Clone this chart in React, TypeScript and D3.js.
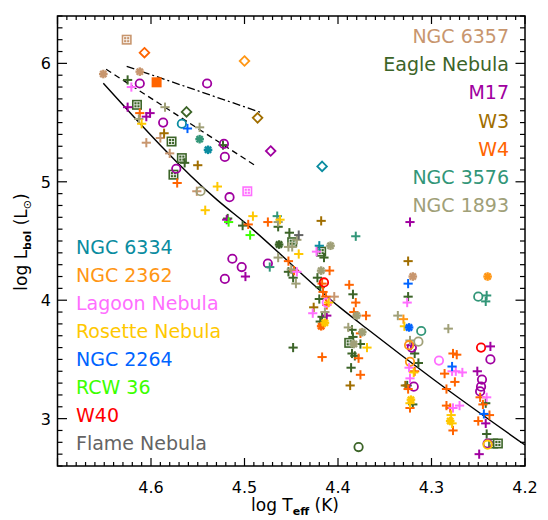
import React from "react";
import * as d3 from "d3";

type P = [number, number, string];

// markers: P=plus, C=circle, D=diamond, B=boxed square, S=asterisk, Q=filled square
const ngc6357: P[] = [
  [4.626, 6.2, "B"], [4.651, 5.91, "S"], [4.612, 5.93, "S"], [4.59, 5.37, "P"], [4.605, 5.33, "P"],
  [4.58, 5.24, "P"], [4.551, 4.92, "P"], [4.404, 4.03, "P"], [4.32, 4.2, "S"],
];
const eagle: P[] = [
  [4.625, 5.86, "P"], [4.615, 5.65, "B"], [4.562, 5.59, "D"], [4.578, 5.34, "B"], [4.523, 5.31, "P"],
  [4.567, 5.2, "B"], [4.564, 5.16, "P"], [4.576, 5.06, "B"], [4.518, 4.69, "P"], [4.502, 4.63, "P"],
  [4.464, 4.62, "P"], [4.452, 4.57, "P"], [4.463, 4.47, "S"], [4.449, 4.49, "B"], [4.418, 4.41, "B"],
  [4.415, 4.36, "P"], [4.453, 4.24, "P"], [4.448, 4.19, "P"], [4.422, 4.19, "P"], [4.419, 4.11, "P"],
  [4.42, 4.01, "P"], [4.417, 3.86, "P"], [4.419, 3.82, "P"], [4.384, 4.05, "P"], [4.325, 4.03, "P"],
  [4.385, 3.75, "P"], [4.384, 3.69, "P"], [4.388, 3.64, "B"], [4.376, 3.63, "P"], [4.448, 3.6, "P"],
  [4.385, 3.55, "P"], [4.382, 3.53, "P"], [4.386, 3.43, "P"], [4.318, 3.55, "P"], [4.314, 3.47, "P"],
  [4.326, 3.28, "P"], [4.32, 3.12, "P"], [4.378, 2.76, "C"], [4.242, 3.13, "P"], [4.241, 2.87, "P"],
  [4.234, 2.79, "B"], [4.229, 2.79, "B"],
];
const m17: P[] = [
  [4.612, 5.83, "C"], [4.54, 5.83, "C"], [4.625, 5.63, "P"], [4.601, 5.58, "P"], [4.605, 5.55, "P"],
  [4.587, 5.5, "C"], [4.522, 5.32, "C"], [4.521, 5.21, "C"], [4.573, 5.11, "C"], [4.516, 4.87, "C"],
  [4.472, 5.26, "D"], [4.519, 4.68, "P"], [4.513, 4.35, "C"], [4.503, 4.28, "C"], [4.499, 4.2, "P"],
  [4.521, 4.18, "C"], [4.475, 4.31, "C"], [4.412, 3.87, "P"], [4.323, 4.66, "P"], [4.321, 3.6, "C"],
  [4.322, 3.62, "P"], [4.319, 3.27, "C"], [4.237, 3.61, "P"], [4.237, 3.5, "C"], [4.251, 3.4, "P"],
  [4.246, 3.33, "C"], [4.247, 3.27, "C"], [4.248, 3.23, "C"], [4.242, 2.96, "P"], [4.24, 2.79, "C"],
  [4.249, 2.7, "P"],
];
const w3: P[] = [
  [4.486, 5.54, "D"], [4.586, 5.41, "P"], [4.55, 5.14, "P"], [4.418, 4.67, "P"], [4.426, 3.94, "P"],
  [4.325, 4.33, "P"], [4.387, 3.28, "P"], [4.328, 3.28, "P"],
];
const w4: P[] = [
  [4.607, 6.09, "D"], [4.594, 5.84, "Q"], [4.612, 5.58, "P"], [4.572, 4.99, "P"], [4.496, 4.64, "P"],
  [4.475, 4.66, "P"], [4.453, 4.33, "P"], [4.447, 4.25, "P"], [4.409, 4.25, "P"], [4.417, 4.14, "P"],
  [4.416, 4.07, "P"], [4.413, 4.03, "P"], [4.412, 3.96, "P"], [4.418, 3.78, "S"], [4.417, 3.52, "P"],
  [4.388, 4.13, "P"], [4.381, 3.98, "P"], [4.383, 3.9, "P"], [4.37, 3.87, "P"], [4.376, 3.72, "P"],
  [4.378, 3.51, "P"], [4.376, 3.37, "P"], [4.318, 3.4, "P"], [4.325, 3.25, "P"], [4.323, 3.09, "P"],
  [4.277, 3.55, "P"], [4.273, 3.54, "P"], [4.286, 3.38, "P"], [4.275, 3.31, "P"], [4.284, 3.25, "P"],
  [4.284, 3.11, "P"], [4.28, 3.09, "P"], [4.277, 2.9, "P"], [4.248, 3.18, "P"], [4.245, 3.12, "P"],
  [4.238, 3.03, "P"], [4.25, 2.98, "P"],
];
const ngc3576: P[] = [
  [4.548, 5.36, "S"], [4.465, 4.71, "P"], [4.473, 4.28, "P"], [4.381, 4.54, "P"], [4.311, 3.74, "C"],
  [4.25, 4.03, "C"], [4.241, 4.04, "P"], [4.242, 3.99, "P"],
];
const ngc1893: P[] = [
  [4.585, 5.63, "P"], [4.613, 5.53, "P"], [4.548, 5.46, "P"], [4.547, 4.92, "C"], [4.464, 4.66, "P"],
  [4.444, 4.51, "P"], [4.449, 4.45, "P"], [4.453, 4.45, "P"], [4.408, 4.46, "S"], [4.464, 4.36, "P"],
  [4.45, 4.26, "P"], [4.445, 4.14, "P"], [4.418, 4.25, "S"], [4.414, 3.9, "P"], [4.38, 3.87, "S"],
  [4.336, 3.87, "P"], [4.282, 3.76, "P"], [4.389, 3.77, "P"], [4.374, 3.73, "S"], [4.383, 3.63, "S"],
  [4.314, 3.65, "C"], [4.323, 3.66, "P"],
];
const ngc6334: P[] = [
  [4.567, 5.49, "C"], [4.539, 5.27, "S"], [4.417, 5.13, "D"], [4.42, 4.46, "P"],
];
const ngc2362: P[] = [
  [4.5, 6.02, "D"], [4.24, 4.2, "S"], [4.33, 3.84, "P"], [4.324, 3.62, "C"], [4.323, 3.48, "C"],
];
const lagoon: P[] = [
  [4.621, 5.8, "P"], [4.497, 4.92, "B"], [4.423, 4.41, "P"], [4.444, 4.24, "P"], [4.412, 3.98, "C"],
  [4.427, 3.89, "P"], [4.326, 3.98, "P"], [4.292, 3.49, "C"], [4.278, 3.4, "P"], [4.274, 3.4, "P"],
  [4.267, 3.39, "P"], [4.324, 3.43, "P"], [4.323, 3.34, "P"], [4.27, 3.11, "P"], [4.277, 3.09, "P"],
  [4.241, 3.18, "P"],
];
const rosette: P[] = [
  [4.61, 5.49, "P"], [4.529, 4.96, "P"], [4.542, 4.76, "P"], [4.491, 4.71, "P"], [4.462, 4.68, "P"],
  [4.442, 4.39, "P"], [4.41, 3.98, "P"], [4.414, 3.81, "S"], [4.329, 3.78, "P"], [4.369, 3.6, "P"],
  [4.319, 3.39, "P"], [4.322, 3.16, "S"], [4.323, 3.13, "P"], [4.279, 3.03, "P"], [4.28, 2.98, "S"],
  [4.278, 2.96, "P"], [4.24, 2.78, "C"],
];
const ngc2264: P[] = [
  [4.561, 5.45, "P"], [4.325, 4.14, "P"], [4.324, 3.77, "S"], [4.278, 3.44, "P"], [4.244, 3.04, "P"],
];
const rcw36: P[] = [[4.517, 4.66, "P"], [4.494, 4.55, "P"]];
const w40: P[] = [[4.415, 4.15, "C"], [4.247, 3.6, "C"]];
const flame: P[] = [[4.442, 4.55, "P"]];

const zamsLine: [number, number][] = [
  [4.651, 5.832], [4.529, 4.845], [4.499, 4.651], [4.397, 3.933], [4.37, 3.765], [4.297, 3.326], [4.2, 2.777],
];
const dashedLine: [number, number][] = [[4.648, 5.95], [4.489, 5.14]];
const dashDotLine: [number, number][] = [[4.626, 5.975], [4.483, 5.587]];

const xMajor = [4.6, 4.5, 4.4, 4.3, 4.2];
const yMajor = [3, 4, 5, 6];

const rightLegend = ["NGC 6357", "Eagle Nebula", "M17", "W3", "W4", "NGC 3576", "NGC 1893"];
const rightColors = ["#C8966E", "#3C6428", "#A000A0", "#A06E00", "#FF6400", "#329678", "#A0A078"];
const rightData = [ngc6357, eagle, m17, w3, w4, ngc3576, ngc1893];
const leftLegend = ["NGC 6334", "NGC 2362", "Lagoon Nebula", "Rosette Nebula", "NGC 2264", "RCW 36", "W40", "Flame Nebula"];
const leftColors = ["#0A8CA0", "#FF9614", "#FF6EFF", "#FFC800", "#0064FF", "#3CFF00", "#FF0000", "#646464"];
const leftData = [ngc6334, ngc2362, lagoon, rosette, ngc2264, rcw36, w40, flame];

const FONT = "'DejaVu Sans', sans-serif";
const L = 57.5, R = 525, T = 16, B = 466;

function Marker({ x, y, m, c }: { x: number; y: number; m: string; c: string }) {
  if (m === "P") {
    const a = 4.6;
    return (
      <g stroke={c} strokeWidth={2}>
        <line x1={x - a} x2={x + a} y1={y} y2={y} />
        <line x1={x} x2={x} y1={y - a} y2={y + a} />
      </g>
    );
  }
  if (m === "C") return <circle cx={x} cy={y} r={4.2} fill="none" stroke={c} strokeWidth={1.8} />;
  if (m === "D") {
    const a = 4.8;
    return <path d={`M${x},${y - a}L${x + a},${y}L${x},${y + a}L${x - a},${y}Z`} fill="none" stroke={c} strokeWidth={1.8} />;
  }
  if (m === "Q") return <rect x={x - 5} y={y - 5} width={10} height={10} fill={c} />;
  if (m === "B") {
    return (
      <g>
        <rect x={x - 5} y={y - 5} width={10} height={10} fill={c} />
        <rect x={x - 3} y={y - 3} width={6} height={6} fill="none" stroke="#fff" strokeWidth={0.8} />
        <line x1={x - 3} x2={x + 3} y1={y} y2={y} stroke="#fff" strokeWidth={0.8} />
        <line x1={x} x2={x} y1={y - 3} y2={y + 3} stroke="#fff" strokeWidth={0.8} />
      </g>
    );
  }
  // asterisk
  const a = 4.3;
  const d = a * 0.72;
  return (
    <g stroke={c} strokeWidth={2.4}>
      <line x1={x - a} x2={x + a} y1={y} y2={y} />
      <line x1={x} x2={x} y1={y - a} y2={y + a} />
      <line x1={x - d} x2={x + d} y1={y - d} y2={y + d} />
      <line x1={x - d} x2={x + d} y1={y + d} y2={y - d} />
    </g>
  );
}

export default function App() {
  const xs = d3.scaleLinear().domain([4.7, 4.2]).range([L, R]);
  const ys = d3.scaleLinear().domain([2.6, 6.4]).range([B, T]);

  const xMinor = d3.range(420, 471).map((v) => v / 100);
  const yMinor = d3.range(26, 65).map((v) => v / 10);

  const line = d3.line<[number, number]>().x((d) => xs(d[0])).y((d) => ys(d[1]));
  const curve = d3.line<[number, number]>().x((d) => xs(d[0])).y((d) => ys(d[1])).curve(d3.curveMonotoneX);

  const groups = [...rightData.map((d, i) => ({ d, c: rightColors[i] })), ...leftData.map((d, i) => ({ d, c: leftColors[i] }))];

  return (
    <div style={{ position: "absolute", left: 0, top: 0 }}>
      <svg width={548} height={520} style={{ display: "block", background: "#fff" }} fontFamily={FONT}>
        <path d={curve(zamsLine) || ""} fill="none" stroke="#000" strokeWidth={1.4} />
        <path d={line(dashedLine) || ""} fill="none" stroke="#000" strokeWidth={1.3} strokeDasharray="6,4" />
        <path d={line(dashDotLine) || ""} fill="none" stroke="#000" strokeWidth={1.3} strokeDasharray="8,3,2,3" />

        {groups.map((g, gi) =>
          g.d.map((p, i) => <Marker key={`${gi}-${i}`} x={xs(p[0])} y={ys(p[1])} m={p[2]} c={g.c} />)
        )}

        {/* frame */}
        <rect x={L} y={T} width={R - L} height={B - T} fill="none" stroke="#000" strokeWidth={1.5} />
        {xMinor.map((v, i) => {
          const major = Math.abs(v * 10 - Math.round(v * 10)) < 1e-6;
          const len = major ? 8 : 4;
          const x = xs(v);
          return (
            <g key={`xt${i}`} stroke="#000" strokeWidth={1.2}>
              <line x1={x} x2={x} y1={B} y2={B - len} />
              <line x1={x} x2={x} y1={T} y2={T + len} />
            </g>
          );
        })}
        {yMinor.map((v, i) => {
          const major = Math.abs(v - Math.round(v)) < 1e-6;
          const len = major ? 9.5 : 5;
          const y = ys(v);
          return (
            <g key={`yt${i}`} stroke="#000" strokeWidth={1.2}>
              <line x1={L} x2={L + len} y1={y} y2={y} />
              <line x1={R} x2={R - len} y1={y} y2={y} />
            </g>
          );
        })}
        {xMajor.map((v) => (
          <text key={`xl${v}`} x={xs(v)} y={493} fontSize={16} textAnchor="middle" fill="#000">
            {v.toFixed(1)}
          </text>
        ))}
        {yMajor.map((v) => (
          <text key={`yl${v}`} x={51} y={ys(v) + 6} fontSize={16} textAnchor="end" fill="#000">
            {v}
          </text>
        ))}

        <text x={295} y={511} fontSize={17} textAnchor="middle" fill="#000">
          log T
          <tspan fontSize={11} fontWeight="bold" dy={4}>eff</tspan>
          <tspan dy={-4}> (K)</tspan>
        </text>
        <text transform="translate(27,242) rotate(-90)" fontSize={17} textAnchor="middle" fill="#000">
          log L
          <tspan fontSize={11} fontWeight="bold" dy={4}>bol</tspan>
          <tspan dy={-4}> (L</tspan>
          <tspan fontSize={11} dy={4}>⊙</tspan>
          <tspan dy={-4}>)</tspan>
        </text>

        {rightLegend.map((t, i) => (
          <text key={t} x={509} y={36 + i * 28.2 + 7} fontSize={19} textAnchor="end" fill={rightColors[i]}>
            {t}
          </text>
        ))}
        {leftLegend.map((t, i) => (
          <text key={t} x={76} y={247 + i * 28 + 7} fontSize={19} textAnchor="start" fill={leftColors[i]}>
            {t}
          </text>
        ))}
      </svg>
    </div>
  );
}
